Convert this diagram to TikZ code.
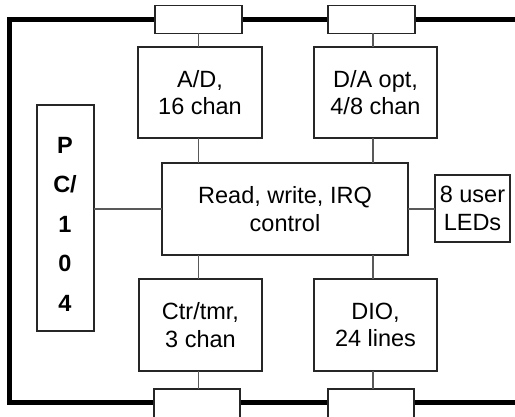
\documentclass[tikz,border=0pt]{standalone}
\usepackage{fontspec}
\setmainfont{Liberation Sans}
\begin{document}
\begin{tikzpicture}[x=1pt,y=-1pt,
  box/.style={draw=black!85,line width=1.3pt,fill=white,inner sep=0pt,outer sep=0pt,
    align=center,font=\fontsize{23.5}{27.5}\selectfont},
  conn/.style={draw=black!85,line width=1.3pt,fill=white,inner sep=0pt,outer sep=0pt},
  wire/.style={draw=black!65,line width=1.3pt},
  bus/.style={draw=black,line width=5pt}]
\useasboundingbox (0,0) rectangle (515,417);
% thick board edge
\coordinate (tr) at (540,20);
\coordinate (tl) at (9.5,20);
\coordinate (bl) at (9.5,402);
\coordinate (br) at (540,402);
\draw[bus] (tr) -- (tl) -- (bl) -- (br);
% connectors on the edge
\node[conn,minimum width=87pt,minimum height=28pt] (c1) at (198.5,19.5) {};
\node[conn,minimum width=87pt,minimum height=28pt] (c2) at (371.5,19.5) {};
\node[conn,minimum width=86pt,minimum height=32pt] (c3) at (197,405) {};
\node[conn,minimum width=86pt,minimum height=32pt] (c4) at (371,405) {};
% function blocks
\node[box,minimum width=124pt,minimum height=91pt] (ad) at (200,92.5) {A/D,\\16 chan};
\node[box,minimum width=123pt,minimum height=91pt] (da) at (375.5,92.5) {D/A opt,\\4/8 chan};
\node[box,minimum width=246pt,minimum height=92pt] (ctl) at (285,209) {Read, write, IRQ\\control};
\node[box,minimum width=123pt,minimum height=92pt] (ct) at (200.5,325) {Ctr/tmr,\\3 chan};
\node[box,minimum width=123pt,minimum height=92pt] (dio) at (375.5,325) {DIO,\\24 lines};
\node[box,minimum width=75pt,minimum height=67pt] (led) at (472.5,208.5) {8 user\\LEDs};
\node[box,minimum width=57pt,minimum height=226pt] (pc) at (65.5,218) {};
\node[align=center,inner sep=0pt,font=\fontsize{23.5}{39.5}\selectfont\bfseries] (pct) at (65,224) {P\\C/\\1\\0\\4};
% wires
\draw[wire] (c1.south -| 198.5,0) -- (ad.north -| 198.5,0);
\draw[wire] (ad.south -| 198.5,0) -- (ctl.north -| 198.5,0);
\draw[wire] (ctl.south -| 198.5,0) -- (ct.north -| 198.5,0);
\draw[wire] (ct.south -| 198.5,0) -- (c3.north -| 198.5,0);
\draw[wire] (c2.south -| 373,0) -- (da.north -| 373,0);
\draw[wire] (da.south -| 373,0) -- (ctl.north -| 373,0);
\draw[wire] (ctl.south -| 373,0) -- (dio.north -| 373,0);
\draw[wire] (dio.south -| 373,0) -- (c4.north -| 373,0);
\draw[wire] (pc.east |- ctl.west) -- (ctl.west);
\draw[wire] (ctl.east) -- (led.west |- ctl.east);
\end{tikzpicture}
\end{document}
